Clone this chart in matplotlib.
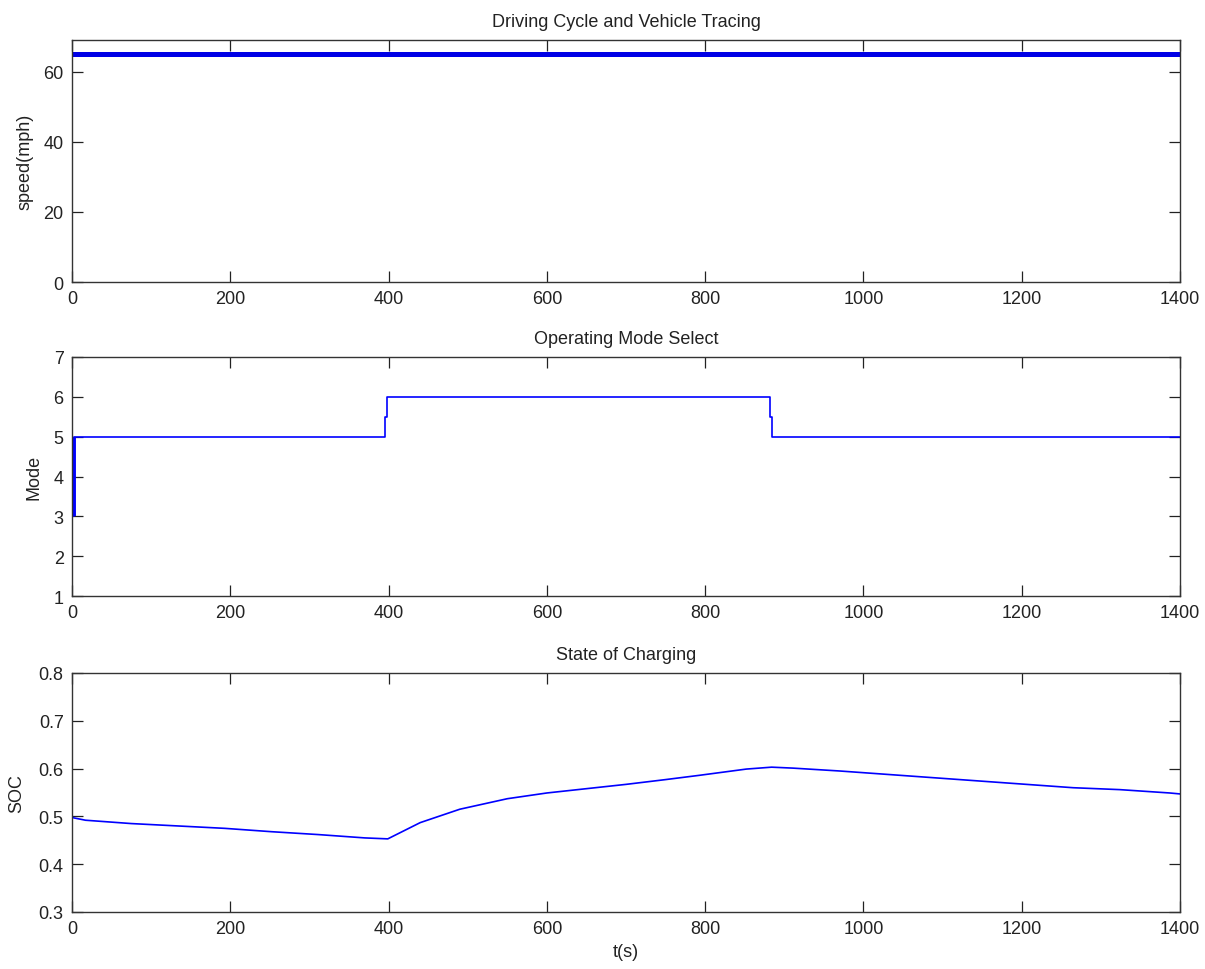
import matplotlib
matplotlib.use("Agg")
import matplotlib.pyplot as plt
from matplotlib import font_manager

# ---------------- data ----------------
speed_t = [0, 1400]
speed_v = [65, 65]

mode_t = [0, 2, 396, 398, 882, 884, 1400]
mode_v = [3, 5, 5.5, 6, 5.5, 5, 5]

soc_t = [0, 2, 17, 75, 134, 193, 252, 311, 370, 399, 440, 490, 550, 600, 650, 700,
         750, 793, 852, 884, 911, 970, 1029, 1088, 1147, 1206, 1265, 1324, 1387, 1400]
soc_v = [0.50, 0.497, 0.492, 0.485, 0.480, 0.475, 0.468, 0.462, 0.455, 0.453, 0.487,
         0.515, 0.537, 0.549, 0.558, 0.567, 0.577, 0.586, 0.599, 0.603, 0.601, 0.595,
         0.588, 0.581, 0.574, 0.567, 0.560, 0.556, 0.549, 0.547]

xticks = [0, 200, 400, 600, 800, 1000, 1200, 1400]

# ---------------- style ----------------
names = {f.name for f in font_manager.fontManager.ttflist}
fam = ['Liberation Sans Narrow', 'Liberation Sans', 'DejaVu Sans'] if 'Liberation Sans Narrow' in names else ['Liberation Sans', 'DejaVu Sans']
plt.rcParams['font.family'] = fam
plt.rcParams['font.size'] = 13

fig = plt.figure(figsize=(12.05, 9.70), dpi=100)
L, W = 72 / 1205, (1180 - 72) / 1205
def box(top, bot):
    return [L, 1 - bot / 970, W, (bot - top) / 970]

ax1 = fig.add_axes(box(41, 283))
ax2 = fig.add_axes(box(358, 597))
ax3 = fig.add_axes(box(674, 913))

for ax in (ax1, ax2, ax3):
    ax.set_xlim(0, 1400)
    ax.set_xticks(xticks)
    ax.tick_params(direction='in', length=8, width=0.9, top=True, right=True,
                   labelsize=13, pad=6, colors='#222222', labelcolor='#222222')
    for s in ax.spines.values():
        s.set_linewidth(1.0)
        s.set_color('#333333')

ax1.plot(speed_t, speed_v, color='#0000e6', linewidth=3.6, solid_capstyle='butt')
ax1.set_ylim(0, 69)
ax1.set_yticks([0, 20, 40, 60])
ax1.set_title('Driving Cycle and Vehicle Tracing', fontsize=13, pad=10, color='#222222')
ax1.set_ylabel('speed(mph)', fontsize=13, color='#222222')
ax1.yaxis.set_label_coords(-0.035, 0.5)

ax2.plot(mode_t, mode_v, color='#0000ff', linewidth=1.2, drawstyle='steps-post')
ax2.vlines(mode_t[1], mode_v[0], mode_v[1], color='#0000ff', linewidth=2.8)
ax2.set_ylim(1, 7)
ax2.set_yticks([1, 2, 3, 4, 5, 6, 7])
ax2.set_title('Operating Mode Select', fontsize=13, pad=10, color='#222222')
ax2.set_ylabel('Mode', fontsize=13, color='#222222')
ax2.yaxis.set_label_coords(-0.027, 0.5)

ax3.plot(soc_t, soc_v, color='#0000ff', linewidth=1.2)
ax3.set_ylim(0.3, 0.8)
ax3.set_yticks([0.3, 0.4, 0.5, 0.6, 0.7, 0.8])
ax3.set_title('State of Charging', fontsize=13, pad=10, color='#222222')
ax3.set_ylabel('SOC', fontsize=13, color='#222222')
ax3.yaxis.set_label_coords(-0.042, 0.5)
ax3.set_xlabel('t(s)', fontsize=13, color='#222222', labelpad=4)

fig.savefig('out.png', dpi=100)
